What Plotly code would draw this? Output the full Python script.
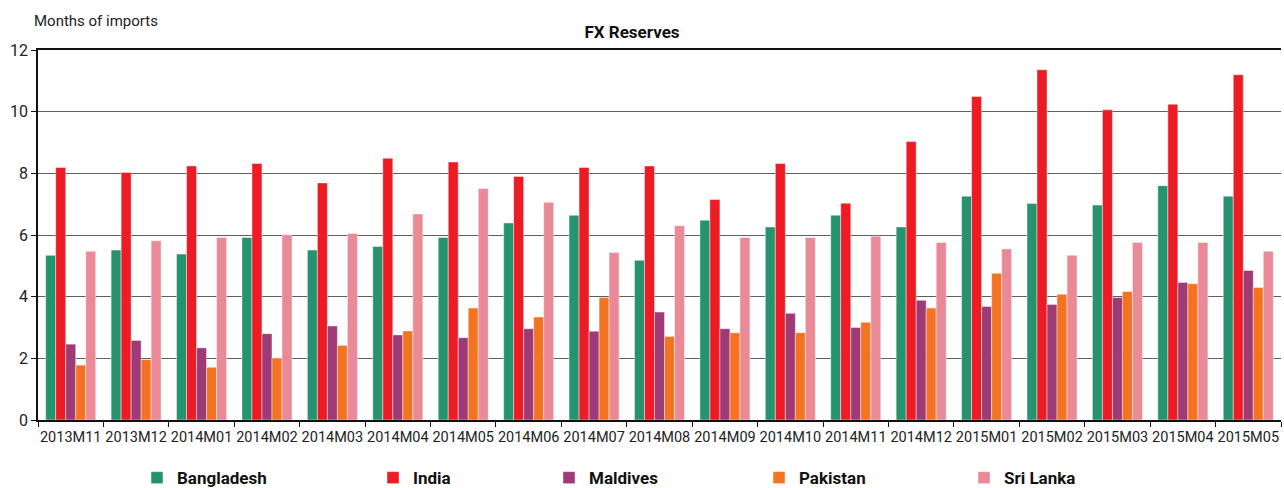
import plotly.graph_objects as go

months = ["2013M11", "2013M12", "2014M01", "2014M02", "2014M03", "2014M04", "2014M05",
          "2014M06", "2014M07", "2014M08", "2014M09", "2014M10", "2014M11", "2014M12",
          "2015M01", "2015M02", "2015M03", "2015M04", "2015M05"]

bangladesh = [5.34, 5.51, 5.38, 5.92, 5.51, 5.63, 5.92, 6.39, 6.64, 5.18, 6.48, 6.26, 6.64, 6.26,
              7.26, 7.02, 6.97, 7.60, 7.26]
india = [8.19, 8.03, 8.24, 8.32, 7.69, 8.49, 8.37, 7.90, 8.19, 8.24, 7.15, 8.32, 7.03, 9.03,
         10.49, 11.36, 10.06, 10.24, 11.20]
maldives = [2.46, 2.58, 2.34, 2.80, 3.05, 2.76, 2.67, 2.96, 2.88, 3.50, 2.96, 3.46, 3.00, 3.88,
            3.68, 3.75, 3.97, 4.46, 4.85]
pakistan = [1.78, 1.96, 1.71, 2.01, 2.42, 2.89, 3.63, 3.34, 3.97, 2.71, 2.83, 2.83, 3.17, 3.63,
            4.76, 4.08, 4.17, 4.42, 4.30]
sri_lanka = [5.47, 5.81, 5.92, 6.01, 6.05, 6.68, 7.51, 7.06, 5.43, 6.30, 5.92, 5.92, 5.96, 5.76,
             5.55, 5.34, 5.76, 5.76, 5.47]

series = [
    ("Bangladesh", bangladesh, "#25936d"),
    ("India", india, "#ed1c24"),
    ("Maldives", maldives, "#9e3a76"),
    ("Pakistan", pakistan, "#f47321"),
    ("Sri Lanka", sri_lanka, "#ea8a96"),
]

FONT = "Roboto, Liberation Sans Narrow, sans-serif"

fig = go.Figure()
legend_ids = ["legend", "legend2", "legend3", "legend4", "legend5"]
for (name, vals, col), lid in zip(series, legend_ids):
    fig.add_trace(go.Bar(
        x=months, y=vals, name=name,
        marker=dict(color=col, line=dict(color="rgba(255,255,255,0.55)", width=0.8)),
        legend=lid,
    ))

W_PLOT_L, W_PLOT_R = 38, 1281
def px_to_paper(px):
    return (px - W_PLOT_L) / (W_PLOT_R - W_PLOT_L)

legend_left_px = [137, 373, 549, 759, 964]
legend_common = dict(
    orientation="h", yanchor="middle", y=-0.157, xanchor="left",
    font=dict(family=FONT, size=17, color="#111", weight="bold"),
    bgcolor="rgba(0,0,0,0)", borderwidth=0,
)
layout_legends = {}
for lid, lx in zip(legend_ids, legend_left_px):
    d = dict(legend_common)
    d["x"] = px_to_paper(lx)
    layout_legends[lid] = d

fig.update_layout(
    width=1284, height=488,
    margin=dict(l=38, r=3, t=50, b=68, autoexpand=False),
    paper_bgcolor="white", plot_bgcolor="white",
    barmode="group", bargap=0.235, bargroupgap=0,
    font=dict(family=FONT, size=15, color="#222"),
    title=dict(text="<b>FX Reserves</b>", x=632 / 1284, xanchor="center",
               y=1 - 32 / 488, yanchor="middle",
               font=dict(family=FONT, size=17, color="#111")),
    showlegend=True,
    **layout_legends,
)

fig.update_xaxes(
    type="category", showgrid=False,
    showline=True, linecolor="#111", linewidth=1.5, mirror=True,
    ticks="outside", tickson="boundaries", ticklen=5, tickcolor="#111",
    tickangle=0, ticklabelstandoff=3,
    tickfont=dict(family=FONT, size=14.5, color="#222"),
)
fig.update_yaxes(
    range=[0, 12], dtick=2, showgrid=True, gridcolor="#5e5e5e", gridwidth=1.2,
    showline=True, linecolor="#111", linewidth=1.5,
    ticks="outside", ticklen=5, tickcolor="#111",
    tickfont=dict(family=FONT, size=16, color="#222"),
    zeroline=False,
)

fig.add_annotation(
    text="Months of imports", xref="paper", yref="paper",
    x=px_to_paper(32), y=1 + 29 / 370, xanchor="left", yanchor="middle",
    showarrow=False, font=dict(family=FONT, size=15, color="#222"),
)

fig.write_html(
    "out.html",
    config={"displayModeBar": False},
    post_script="document.body.style.margin='0';document.body.style.overflow='hidden';",
)
